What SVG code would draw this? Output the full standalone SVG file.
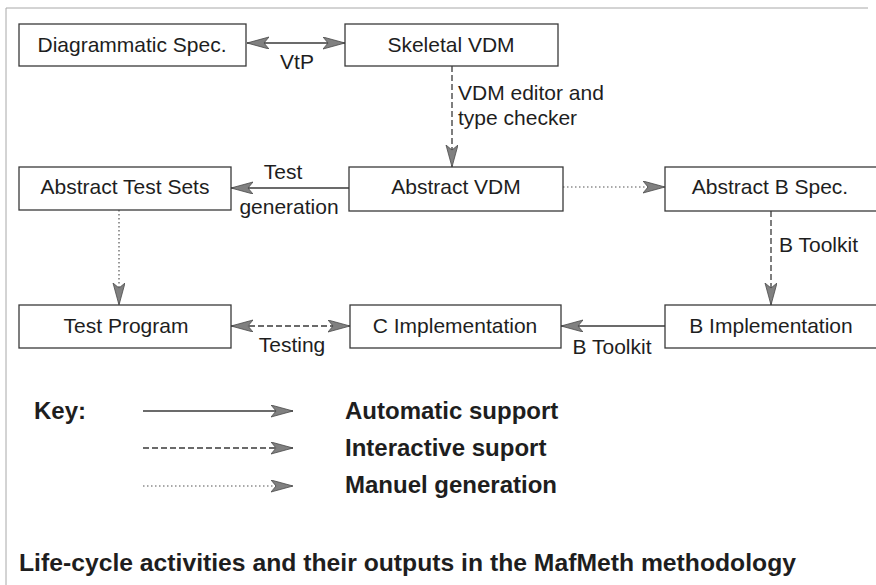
<svg xmlns="http://www.w3.org/2000/svg" width="876" height="585" viewBox="0 0 876 585">
  <style>
    .box { fill: #ffffff; stroke: #3a3a3a; stroke-width: 1.3; }
    .lbl { font-family: "Liberation Sans", Arial, sans-serif; font-size: 21px; fill: #1e1e1e; }
    .mid { text-anchor: middle; }
    .key { font-family: "Liberation Sans", Arial, sans-serif; font-size: 24px; font-weight: bold; fill: #1e1e1e; }
    .solid { stroke: #3a3a3a; stroke-width: 1.3; fill: none; }
    .dash { stroke: #3a3a3a; stroke-width: 1.3; fill: none; stroke-dasharray: 6 3; }
    .dot { stroke: #555555; stroke-width: 1.2; fill: none; stroke-dasharray: 1.5 2.5; }
    .frame { stroke: #a8a8a8; stroke-width: 1; fill: none; }
  </style>
  <defs>
    <marker id="head" markerUnits="userSpaceOnUse" markerWidth="26" markerHeight="14" refX="22" refY="6" orient="auto-start-reverse" viewBox="0 0 26 14">
      <path d="M0,0 L22,6 L0,12 L5,6 Z" fill="#808080" stroke="#4a4a4a" stroke-width="0.8"/>
    </marker>
  </defs>

  <rect width="876" height="585" fill="#ffffff"/>
  <!-- page frame -->
  <path class="frame" d="M6,585 L6,8 L868,8"/>

  <g id="connectors">
    <!-- VtP -->
    <line class="solid" x1="247" y1="43" x2="345" y2="43" marker-start="url(#head)" marker-end="url(#head)"/>
    <!-- VDM editor and type checker -->
    <line class="dash" x1="452" y1="66" x2="452" y2="167" marker-end="url(#head)"/>
    <!-- Test generation -->
    <line class="solid" x1="349" y1="188" x2="231" y2="188" marker-end="url(#head)"/>
    <!-- Abstract VDM to Abstract B Spec. -->
    <line class="dot" x1="563" y1="187" x2="665" y2="187" marker-end="url(#head)"/>
    <!-- Abstract Test Sets to Test Program -->
    <line class="dot" x1="119" y1="210" x2="119" y2="305" marker-end="url(#head)"/>
    <!-- B Toolkit refinement -->
    <line class="dash" x1="771" y1="211" x2="771" y2="305" marker-end="url(#head)"/>
    <!-- B Toolkit code generation -->
    <line class="solid" x1="665" y1="326" x2="561" y2="326" marker-end="url(#head)"/>
    <!-- Testing -->
    <line class="dash" x1="231" y1="326" x2="350" y2="326" marker-start="url(#head)" marker-end="url(#head)"/>
    <text class="lbl mid" x="297" y="69">VtP</text>
    <text class="lbl" x="458" y="100">VDM editor and</text>
    <text class="lbl" x="458" y="125">type checker</text>
    <text class="lbl mid" x="283" y="179">Test</text>
    <text class="lbl mid" x="289" y="214">generation</text>
    <text class="lbl" x="779" y="252">B Toolkit</text>
    <text class="lbl mid" x="292" y="352">Testing</text>
    <text class="lbl mid" x="612" y="354">B Toolkit</text>
  </g>

  <g id="diagrammatic-spec">
    <rect class="box" x="19" y="24" width="227" height="42"/>
    <text class="lbl mid" x="132" y="52">Diagrammatic Spec.</text>
  </g>
  <g id="skeletal-vdm">
    <rect class="box" x="345" y="24" width="213" height="42"/>
    <text class="lbl mid" x="451" y="52">Skeletal VDM</text>
  </g>
  <g id="abstract-test-sets">
    <rect class="box" x="19" y="167" width="212" height="43"/>
    <text class="lbl mid" x="125" y="194">Abstract Test Sets</text>
  </g>
  <g id="abstract-vdm">
    <rect class="box" x="349" y="167" width="214" height="44"/>
    <text class="lbl mid" x="456" y="194">Abstract VDM</text>
  </g>
  <g id="abstract-b-spec">
    <rect class="box" x="665" y="167" width="220" height="44"/>
    <text class="lbl mid" x="770" y="194">Abstract B Spec.</text>
  </g>
  <g id="test-program">
    <rect class="box" x="19" y="305" width="212" height="43"/>
    <text class="lbl mid" x="126" y="333">Test Program</text>
  </g>
  <g id="c-implementation">
    <rect class="box" x="350" y="305" width="211" height="43"/>
    <text class="lbl mid" x="455" y="333">C Implementation</text>
  </g>
  <g id="b-implementation">
    <rect class="box" x="665" y="305" width="220" height="43"/>
    <text class="lbl mid" x="771" y="333">B Implementation</text>
  </g>

  <g id="key">
    <text class="key" x="34" y="419">Key:</text>
    <line class="solid" x1="143" y1="411" x2="293" y2="411" marker-end="url(#head)"/>
    <line class="dash" x1="143" y1="448" x2="293" y2="448" marker-end="url(#head)"/>
    <line class="dot" x1="143" y1="486" x2="293" y2="486" marker-end="url(#head)"/>
    <text class="key" x="345" y="419">Automatic support</text>
    <text class="key" x="345" y="456">Interactive suport</text>
    <text class="key" x="345" y="493">Manuel generation</text>
  </g>

  <text class="key" x="19" y="571" textLength="777" lengthAdjust="spacingAndGlyphs">Life-cycle activities and their outputs in the MafMeth methodology</text>
</svg>
